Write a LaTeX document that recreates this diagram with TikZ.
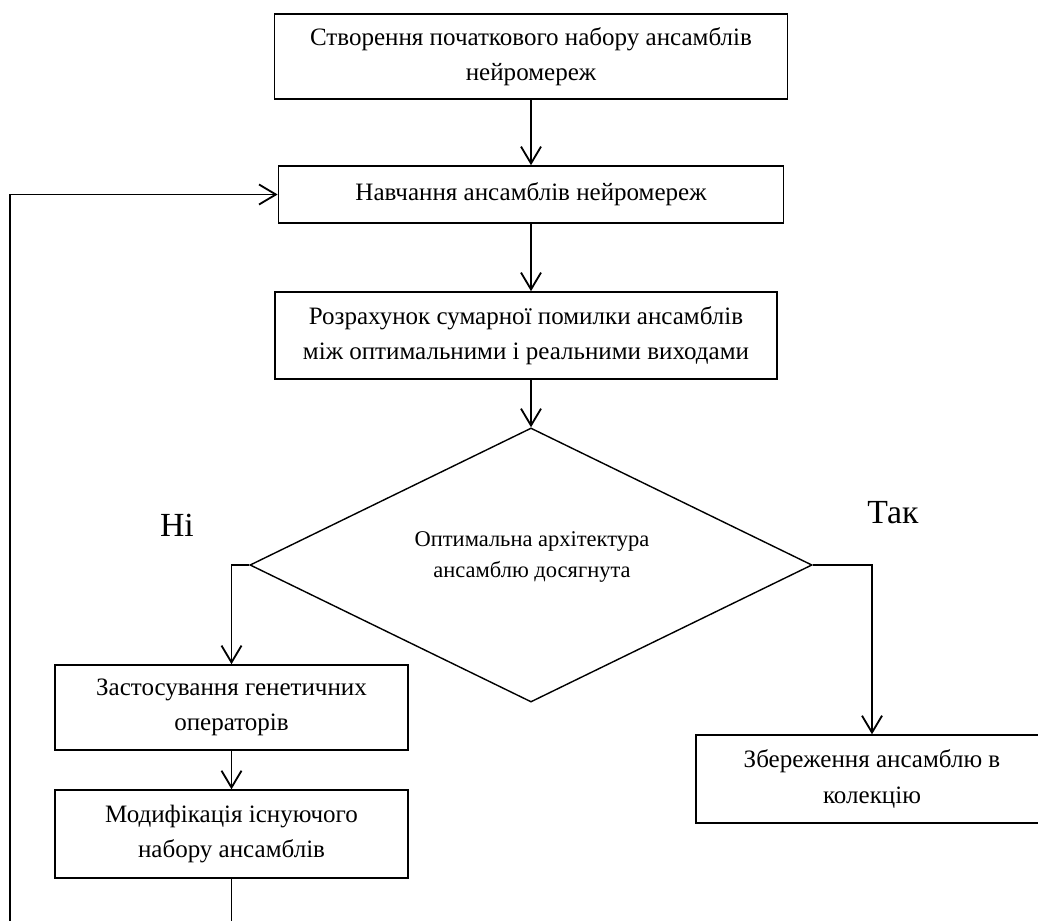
\documentclass[tikz,border=0pt]{standalone}
\usepackage{fontspec}
\setmainfont{Liberation Serif}
\usetikzlibrary{arrows.meta,shapes.geometric}
\begin{document}
\begin{tikzpicture}[x=0.025cm,y=-0.025cm,>={Straight Barb[length=0.42cm,width=0.5cm]},
  blok/.style={draw,line width=1pt,inner sep=0pt,align=center,font=\fontsize{17.8}{25}\selectfont},
  linia/.style={line width=1.3pt}]
\useasboundingbox (0,0) rectangle (1038,920);
\node[blok,minimum width=12.83cm,minimum height=2.13cm] (b1) at (531,56.5)
  {Створення початкового набору ансамблів\\нейромереж};
\node[blok,minimum width=12.63cm,minimum height=1.43cm] (b2) at (531,194.5)
  {Навчання ансамблів нейромереж};
\node[blok,minimum width=12.55cm,minimum height=2.18cm] (b3) at (526,335.5)
  {Розрахунок сумарної помилки ансамблів\\між оптимальними і реальними виходами};
\node[draw,line width=1pt,diamond,inner sep=0pt,minimum width=14.05cm,minimum height=6.85cm] (dec) at (531,565) {};
\node[align=center,font=\fontsize{16}{21.5}\selectfont] (dectxt) at (532,557)
  {Оптимальна архітектура\\ансамблю досягнута};
\node[font=\fontsize{24}{28}\selectfont] (ni) at (177,525) {Ні};
\node[font=\fontsize{24}{28}\selectfont] (tak) at (893,513) {Так};
\node[blok,minimum width=8.83cm,minimum height=2.13cm] (b4) at (231.5,707.5)
  {Застосування генетичних\\операторів};
\node[blok,minimum width=8.83cm,minimum height=2.2cm] (b5) at (231.5,834)
  {Модифікація існуючого\\набору ансамблів};
\node[blok,minimum width=8.8cm,minimum height=2.2cm] (b6) at (872,779)
  {Збереження ансамблю в\\колекцію};
\coordinate (niz) at (231.5,930);
\coordinate (petlia) at (10,930);
\draw[linia,->] (b1) -- (b2);
\draw[linia,->] (b2) -- (b2 |- b3.north);
\draw[linia,->] (b3.south -| dec) -- (dec.north);
\draw[linia,->] (dec.west) -| (b4.north);
\draw[linia,->] (dec.east) -| (b6.north);
\draw[linia,->] (b4) -- (b5);
\draw[linia] (b5) -- (niz);
\draw[linia,->] (petlia) |- (b2.west);
\end{tikzpicture}
\end{document}
